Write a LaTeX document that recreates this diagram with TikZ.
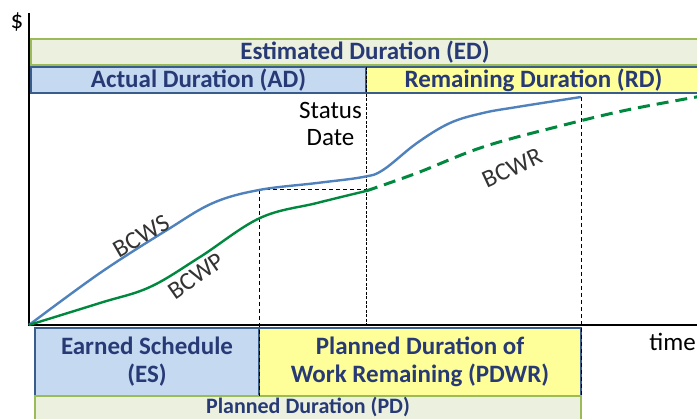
\documentclass[tikz,border=0pt]{standalone}
\usepackage{fontspec}
\setmainfont{Carlito}
\usetikzlibrary{positioning,calc}
\definecolor{edfill}{RGB}{235,241,222}
\definecolor{edline}{RGB}{155,187,89}
\definecolor{adfill}{RGB}{197,217,241}
\definecolor{adline}{RGB}{56,93,138}
\definecolor{rdfill}{RGB}{255,255,153}
\definecolor{bandtext}{RGB}{40,58,118}
\definecolor{bcwsblue}{RGB}{79,129,189}
\definecolor{bcwpgreen}{RGB}{0,136,62}
\tikzset{
    band/.style = {draw, rectangle, anchor=north west,
        inner sep=0pt, outer sep=0pt, line width=1.2pt,
        text=bandtext, align=center,
        font=\bfseries\fontsize{25}{28}\selectfont},
    edband/.style = {band, fill=edfill, draw=edline, minimum height=26pt},
    adband/.style = {band, fill=adfill, draw=adline, minimum height=26pt},
    rdband/.style = {band, fill=rdfill, draw=adline, minimum height=26pt},
    axis/.style = {draw, line width=2.6pt},
    guide/.style = {draw, line width=1pt, dash pattern=on 4pt off 3pt},
    statusline/.style = {draw, line width=0.9pt, dash pattern=on 3pt off 1.5pt},
    bcws/.style = {draw=bcwsblue, line width=2.4pt},
    bcwp/.style = {draw=bcwpgreen, line width=2.4pt},
    bcwr/.style = {bcwp, line width=3pt, dash pattern=on 12pt off 7pt},
    curvelabel/.style = {font=\fontsize{25}{28}\selectfont, text=black!80, inner sep=0pt},
    plain/.style = {font=\fontsize{25}{28}\selectfont, text=black, inner sep=0pt}
}
\begin{document}
\begin{tikzpicture}[x=1pt, y=-1pt, >=latex]
    \useasboundingbox (0,0) rectangle (697,419);
    \node[edband, minimum width=668pt] (ed) at (31,39) {Estimated Duration (ED)};
    \node[adband, minimum width=335pt] (ad) at (31,67) {Actual Duration (AD)};
    \node[rdband, minimum width=335pt, right=0pt of ad] (rd) {Remaining Duration (RD)};
    \node[adband, minimum width=224pt, minimum height=68pt] (es) at (35,328) {Earned Schedule\\(ES)};
    \node[rdband, minimum width=322pt, minimum height=68pt, right=0pt of es] (pdwr) {Planned Duration of\\Work Remaining (PDWR)};
    \node[edband, minimum width=546pt, minimum height=26pt, below=0pt of es.south west, anchor=north west] (pd) {};
    \node[band, draw=none, font=\bfseries\fontsize{22}{26}\selectfont, below=1pt of pd.north] (pdlbl) {Planned Duration (PD)};
    \coordinate (origin) at (29,325);
    \coordinate (ytop) at (29,13);
    \coordinate (xend) at (702,325);
    \coordinate (bcwsES) at (259,190);
    \coordinate (bcwpSD) at (366,191);
    \coordinate (bcwsEnd) at (581,97);
    \draw[axis] (ytop) -- (origin) -- (xend);
    \node[plain, anchor=center] (dollar) at (17,22) {\$};
    \node[plain, anchor=east] (time) at (696,342) {time};
    \node[plain, anchor=east] (status) at (362,110) {Status};
    \node[plain, anchor=east, below of=status, node distance=28pt] (date) {Date};
    % guide lines
    \draw[statusline] (ad.north east) -- (ad.east |- origin);
    \draw[guide] (bcwsES) -- (bcwsES -| bcwpSD);
    \draw[guide] (bcwsES) -- (es.south east);
    \draw[guide] (bcwsEnd) -- (pdwr.south east);
    % curves
    \draw[bcws] plot[smooth, tension=0.6] coordinates {(origin) (100,273) (167,230) (213,203) (bcwsES) (317,183) (363,177) (383,170) (417,143) (450,123) (483,113) (517,107) (bcwsEnd)};
    \draw[bcwp] plot[smooth, tension=0.6] coordinates {(origin) (100,303) (150,287) (200,257) (260,218) (317,203) (bcwpSD)};
    \draw[bcwr] plot[smooth, tension=0.6] coordinates {(bcwpSD) (417,173) (483,147) (560,126) (627,110) (702,96)};
    \node[curvelabel, rotate=30] (bcwslbl) at (141,236) {BCWS};
    \node[curvelabel, rotate=35] (bcwplbl) at (196,276) {BCWP};
    \node[curvelabel, rotate=25] (bcwrlbl) at (512,168) {BCWR};
\end{tikzpicture}
\end{document}
